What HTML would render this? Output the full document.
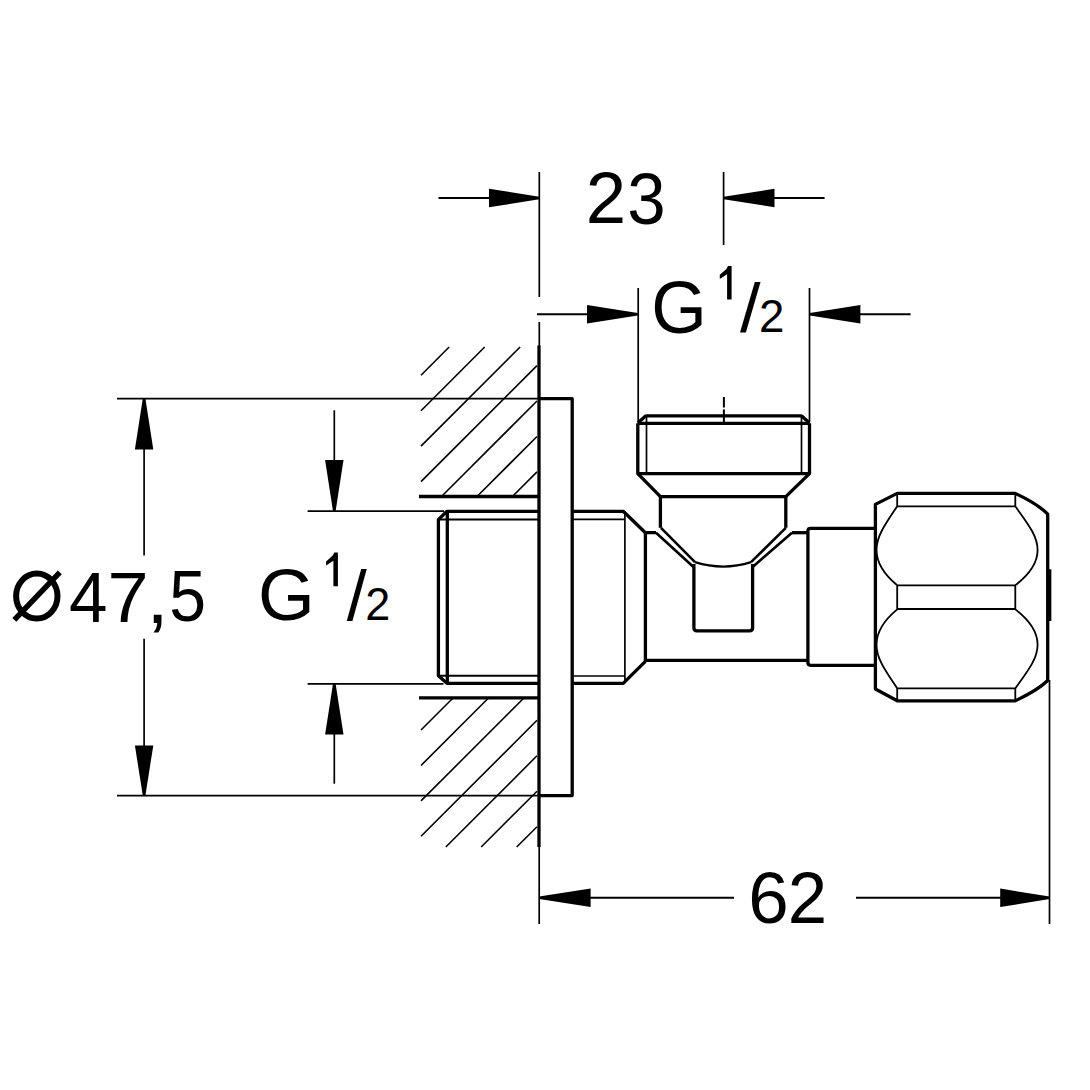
<!DOCTYPE html>
<html><head><meta charset="utf-8"><style>
html,body{margin:0;padding:0;background:#fff;width:1090px;height:1090px;overflow:hidden}
svg{position:absolute;left:0;top:0;display:block}
</style></head><body>
<svg width="1090" height="1090" viewBox="0 0 1090 1090">
<g fill="none" stroke="#000" stroke-linecap="butt" stroke-linejoin="round">
<line x1="539.3" y1="172" x2="539.3" y2="297" stroke-width="1.7"/>
<line x1="539.3" y1="322" x2="539.3" y2="346" stroke-width="1.7"/>
<line x1="438.5" y1="198" x2="490" y2="198" stroke-width="1.9"/>
<polygon points="489,188.8 539.3,196.7 539.3,199.3 489,207.2" fill="#000" stroke="none"/>
<line x1="723.6" y1="172" x2="723.6" y2="245" stroke-width="1.7"/>
<line x1="774" y1="198" x2="824.6" y2="198" stroke-width="1.9"/>
<polygon points="774.5,188.8 723.6,196.7 723.6,199.3 774.5,207.2" fill="#000" stroke="none"/>
<line x1="537" y1="314.3" x2="588" y2="314.3" stroke-width="1.9"/>
<polygon points="587,305.1 637.8,313.0 637.8,315.6 587,323.5" fill="#000" stroke="none"/>
<line x1="638.2" y1="288" x2="638.2" y2="421" stroke-width="1.7"/>
<line x1="809.5" y1="288" x2="809.5" y2="421" stroke-width="1.7"/>
<line x1="860" y1="314.3" x2="910.6" y2="314.3" stroke-width="1.9"/>
<polygon points="860.4,305.1 809.8,313.0 809.8,315.6 860.4,323.5" fill="#000" stroke="none"/>
<line x1="117" y1="398.6" x2="539" y2="398.6" stroke-width="1.7"/>
<line x1="117" y1="795.6" x2="539" y2="795.6" stroke-width="1.7"/>
<line x1="144.1" y1="398.6" x2="144.1" y2="555.5" stroke-width="1.7"/>
<line x1="144.1" y1="638.8" x2="144.1" y2="795.6" stroke-width="1.7"/>
<polygon points="134.9,449.4 142.79999999999998,398.6 145.4,398.6 153.29999999999998,449.4" fill="#000" stroke="none"/>
<polygon points="134.9,745.4 142.79999999999998,795.6 145.4,795.6 153.29999999999998,745.4" fill="#000" stroke="none"/>
<line x1="307.6" y1="511.2" x2="444" y2="511.2" stroke-width="1.7"/>
<line x1="307.6" y1="683.8" x2="443.5" y2="683.8" stroke-width="1.7"/>
<line x1="334.3" y1="410.3" x2="334.3" y2="470" stroke-width="1.7"/>
<polygon points="325.1,460 333.0,511.2 335.6,511.2 343.5,460" fill="#000" stroke="none"/>
<line x1="334.3" y1="725" x2="334.3" y2="783.7" stroke-width="1.7"/>
<polygon points="325.1,734.5 333.0,683.8 335.6,683.8 343.5,734.5" fill="#000" stroke="none"/>
<line x1="539.2" y1="847" x2="539.2" y2="924" stroke-width="1.7"/>
<line x1="1049.5" y1="680" x2="1049.5" y2="924" stroke-width="1.7"/>
<line x1="590" y1="897.8" x2="734" y2="897.8" stroke-width="1.9"/>
<polygon points="590.6,888.5999999999999 539.2,896.5 539.2,899.0999999999999 590.6,907.0" fill="#000" stroke="none"/>
<line x1="856" y1="897.8" x2="1001" y2="897.8" stroke-width="1.9"/>
<polygon points="1000.2,888.5999999999999 1049.5,896.5 1049.5,899.0999999999999 1000.2,907.0" fill="#000" stroke="none"/>
<g stroke-width="1.6"><line x1="421.0" y1="375.2" x2="449.2" y2="347.0"/><line x1="421.0" y1="410.7" x2="484.7" y2="347.0"/><line x1="421.0" y1="446.1" x2="520.1" y2="347.0"/><line x1="421.0" y1="481.6" x2="537.0" y2="365.6"/><line x1="441.5" y1="496.5" x2="537.0" y2="401.0"/><line x1="477.0" y1="496.5" x2="537.0" y2="436.5"/><line x1="512.4" y1="496.5" x2="537.0" y2="471.9"/><line x1="421.0" y1="730.0" x2="453.0" y2="698.0"/><line x1="421.0" y1="765.5" x2="488.5" y2="698.0"/><line x1="421.0" y1="800.9" x2="523.9" y2="698.0"/><line x1="421.0" y1="836.3" x2="537.0" y2="720.3"/><line x1="445.8" y1="847.0" x2="537.0" y2="755.8"/><line x1="481.2" y1="847.0" x2="537.0" y2="791.2"/><line x1="516.7" y1="847.0" x2="537.0" y2="826.7"/></g>
<line x1="419" y1="496.5" x2="539" y2="496.5" stroke-width="3.3"/>
<line x1="419" y1="697.8" x2="539" y2="697.8" stroke-width="3.3"/>
<line x1="539" y1="345.5" x2="539" y2="847" stroke-width="3.3"/>
<path d="M539,398.7 H572.2 V795.6 H539" stroke-width="3.3"/>
<path d="M539,511.3 H447 L438.4,519.6 V675.8 L447,683.3 H539" stroke-width="3.3"/>
<line x1="447.3" y1="511.3" x2="447.3" y2="683.3" stroke-width="3.3"/>
<line x1="438.4" y1="519.4" x2="539" y2="519.4" stroke-width="2"/>
<line x1="438.4" y1="675.8" x2="539" y2="675.8" stroke-width="2"/>
<path d="M572.2,511.3 H623.2 L645.4,532.7 H656" stroke-width="3.3"/>
<path d="M572.2,683.3 H623.2 L645.4,661.4" stroke-width="3.3"/>
<line x1="624.9" y1="511.3" x2="624.9" y2="683.3" stroke-width="1.7"/>
<line x1="572.2" y1="519.4" x2="624.9" y2="519.4" stroke-width="1.7"/>
<line x1="572.2" y1="676" x2="624.9" y2="676" stroke-width="1.7"/>
<line x1="645.4" y1="531" x2="645.4" y2="662" stroke-width="3.3"/>
<path d="M645.4,660.4 H807.9" stroke-width="3.3"/>
<path d="M792,532.7 H807" stroke-width="3.3"/>
<path d="M637.8,423 L645.3,416.2 Q645.8,415.9 646.8,415.9 H801 Q801.6,415.9 802,416.2 L809.5,423" stroke-width="3.3"/>
<line x1="637.8" y1="423.3" x2="809.5" y2="423.3" stroke-width="3.3"/>
<path d="M637.8,423.3 V473.6 H809.5 V423.3" stroke-width="3.3"/>
<line x1="646.5" y1="415.9" x2="646.5" y2="473.6" stroke-width="1.7"/>
<line x1="801.5" y1="415.9" x2="801.5" y2="473.6" stroke-width="1.7"/>
<path d="M637.8,473.6 L660.4,496.6 H785.8 L809.5,473.6" stroke-width="3.3"/>
<line x1="660.4" y1="496.6" x2="660.4" y2="527.8" stroke-width="3.3"/>
<line x1="785.8" y1="496.6" x2="785.8" y2="527.8" stroke-width="3.3"/>
<line x1="723.9" y1="397" x2="723.9" y2="407.5" stroke-width="2"/>
<line x1="723.9" y1="409.4" x2="723.9" y2="423" stroke-width="2"/>
<path d="M656,532.7 L693.5,567 M661,527.8 L695,562.2 M792,532.7 L752.6,567 M785.8,527.8 L751,562.2" stroke-width="2.6"/>
<path d="M695,562.2 Q723.4,571 751,562.2" stroke-width="2.4"/>
<path d="M693.9,564 V628 Q693.9,630.8 697,630.8 H749.5 Q752.6,630.8 752.6,628 V564" stroke-width="3.3"/>
<path d="M875.4,528.4 H810.5 Q807.9,528.4 807.9,531 V662.6 Q807.9,665.3 810.5,665.3 H875.4" stroke-width="3.3"/>
<path d="M875.4,504.4 L897.2,493.4 H1015.3 Q1038,504 1047.7,514.2 V680.5 Q1038,690 1015.3,700.8 H897.2 L875.4,689 Z" stroke-width="3.3"/>
<line x1="1049.7" y1="569.3" x2="1049.7" y2="621" stroke-width="3.3"/>
<path d="M897.2,493.4 V506.3 H1015.3 V493.4 M897.2,700.8 V688.4 H1015.3 V700.8 M897.2,506.3 C885.4,524.0 876.5,536.0 876.5,550.0 C876.5,563.0 883.6,574.0 897.2,585.3 M897.2,688.4 C885.4,670.7 876.5,658.7 876.5,644.7 C876.5,631.7 883.6,620.7 897.2,609.4 M1015.3,506.3 C1028.0,524.0 1037.6,536.0 1037.6,550.0 C1037.6,563.0 1030.0,574.0 1015.3,585.3 M1015.3,688.4 C1028.0,670.7 1037.6,658.7 1037.6,644.7 C1037.6,631.7 1030.0,620.7 1015.3,609.4 M1015.3,585.3 H897.2 V609 H1015.3 V585.3" stroke-width="1.8"/>
</g>
<g fill="#000" font-family="Liberation Sans, sans-serif"><text transform="translate(585.77,222.70) scale(0.7253,0.7143)" font-size="100">2</text>
<text transform="translate(627.24,224.18) scale(0.6894,0.7211)" font-size="100">3</text>
<text transform="translate(748.16,922.88) scale(0.7283,0.7183)" font-size="100">6</text>
<text transform="translate(787.76,922.60) scale(0.7077,0.7143)" font-size="100">2</text>
<text transform="translate(68.97,621.70) scale(0.6920,0.7101)" font-size="100">4</text>
<text transform="translate(107.51,621.70) scale(0.7385,0.7101)" font-size="100">7</text>
<text transform="translate(146.30,622.94) scale(0.8105,0.7565)" font-size="100">,</text>
<text transform="translate(169.26,621.49) scale(0.6611,0.7143)" font-size="100">5</text>
<text transform="translate(257.95,619.98) scale(0.7298,0.7211)" font-size="100">G</text>
<text transform="translate(346.80,619.60) scale(0.7200,0.6993)" font-size="100">/</text>
<text transform="translate(365.35,620.30) scale(0.4505,0.4600)" font-size="100">2</text>
<text transform="translate(651.13,332.86) scale(0.7145,0.7408)" font-size="100">G</text>
<text transform="translate(740.00,332.02) scale(0.7382,0.6830)" font-size="100">/</text>
<text transform="translate(758.91,332.20) scale(0.4571,0.4586)" font-size="100">2</text>
<path d="M731.6,266 V299.6 H727.1 V274.2 L719.8000000000001,279 V274.8 L726.4,269 L728.0,266 Z"/><path d="M337.9,552.6 V586.2 H333.4 V560.8000000000001 L326.09999999999997,565.6 V561.4 L332.7,555.6 L334.29999999999995,552.6 Z"/><ellipse cx="36.8" cy="596.1" rx="20.7" ry="22.5" fill="none" stroke="#000" stroke-width="6"/><line x1="14.3" y1="619.8" x2="59.8" y2="572.3" stroke="#000" stroke-width="5.5"/></g>
</svg>
</body></html>
